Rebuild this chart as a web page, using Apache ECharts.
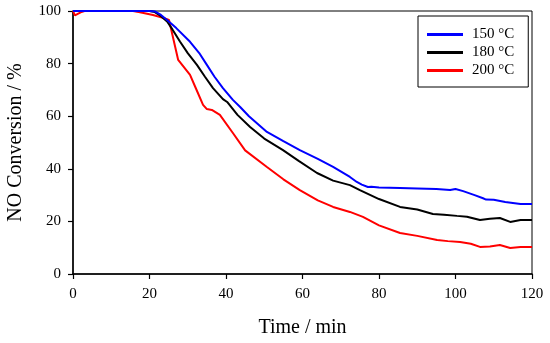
<!DOCTYPE html>
<html>
<head>
<meta charset="utf-8">
<script src="https://cdn.jsdelivr.net/npm/echarts@6/dist/echarts.min.js"></script>
<style>html,body{margin:0;padding:0;background:#fff}#c{width:550px;height:343px}</style>
</head>
<body>
<div id="c"></div>
<script>
var seriesNames = ['150 °C', '180 °C', '200 °C'];
var xTicks = [0, 20, 40, 60, 80, 100, 120];
var yTicks = [0, 20, 40, 60, 80, 100];

var t150 = [0,5,10,15,20,21.5,23,24.6,27,30.6,33,35,37,39.2,41.8,43.7,46,50.7,55,59.3,64,68,72.4,74.2,75.5,76,77.1,78,80,85.5,90,95,98.6,100,102,105,107.2,108,110,113,115,117,120];
var v150 = [100,100,100,100,100,99.8,98.5,96.6,93.5,88.3,84,79.5,75,70.7,66.2,63.5,60,54,50.5,47.1,43.8,40.7,36.9,35,34,34.6,33.1,33.2,32.9,32.7,32.5,32.3,31.9,32.3,31.5,30,28.8,28.3,28.2,27.4,27,26.6,26.6];

var t180 = [0,5,10,15,20,21.4,23,24.6,26,28,30,32.4,34.5,36.6,39.2,40.3,43,46.3,50,54.9,59,63.8,68,72.4,75,80,85.5,90,94.1,97,100.4,103,106.4,109,111.6,114.3,117,120];
var v180 = [100,100,100,100,100,99.6,98,96,93,88.3,84,79.5,75,70.7,66.5,65.4,60.5,55.9,51.5,47.1,43,38.4,35.5,33.8,31.9,28.5,25.5,24.5,22.8,22.5,22.1,21.8,20.5,21,21.3,19.8,20.5,20.5];

var t200 = [0,0.5,1,2,3,5,10,15.7,17.5,20.9,24,25.1,27.5,30.6,32,34,35,35.3,36.3,38.4,41.8,45,50.7,55,59.3,64,68,72.4,75.8,80,85.5,90,95.2,98,101.2,104,106.4,109,111.6,114.3,117,120];
var v200 = [100,98.3,99,99.5,100,100,100,100,99.5,98.5,97.2,96.6,81.4,75.7,71,64.3,62.7,63.1,62.4,60.5,53.6,47,40.7,36,31.9,28,25.5,23.6,21.7,18.5,15.6,14.5,12.9,12.5,12.2,11.5,10.3,10.5,11.0,9.9,10.3,10.3];

function pairs(t, v) { return t.map(function (x, i) { return [x, v[i]]; }); }
var colors = ['#0000ff', '#000000', '#ff0000'];
var datasets = [pairs(t150, v150), pairs(t180, v180), pairs(t200, v200)];
var font = '"Liberation Serif", "Times New Roman", serif';

var chart = echarts.init(document.getElementById('c'), null, {renderer: 'canvas'});
chart.setOption({
  animation: false,
  backgroundColor: '#fff',
  textStyle: {fontFamily: font},
  grid: {left: 73, right: 18, top: 11, bottom: 69, containLabel: false, outerBoundsMode: 'none', show: true, borderColor: '#000', borderWidth: 1, backgroundColor: 'transparent'},
  legend: {
    orient: 'vertical', left: 418, top: 16,
    borderColor: '#000', borderWidth: 1,
    padding: [11, 14, 9, 9],
    itemGap: 3, itemWidth: 36, itemHeight: 3, icon: 'rect',
    textStyle: {fontFamily: font, fontSize: 15, color: '#000', lineHeight: 15, padding: [0, 0, 0, 4]},
    data: seriesNames
  },
  xAxis: {
    type: 'value', min: xTicks[0], max: xTicks[xTicks.length - 1], interval: 20,
    name: 'Time / min', nameLocation: 'middle', nameGap: 44,
    nameTextStyle: {fontFamily: font, fontSize: 20, color: '#000'},
    axisLine: {lineStyle: {color: '#000', width: 1.5}},
    axisTick: {show: true, inside: false, length: 5, lineStyle: {color: '#000', width: 1.2}},
    axisLabel: {fontFamily: font, fontSize: 15, color: '#000', margin: 13},
    splitLine: {show: false}
  },
  yAxis: {
    type: 'value', min: yTicks[0], max: yTicks[yTicks.length - 1], interval: 20,
    name: 'NO Conversion / %', nameLocation: 'middle', nameGap: 47,
    nameTextStyle: {fontFamily: font, fontSize: 20, color: '#000'},
    axisLine: {lineStyle: {color: '#000', width: 1.5}},
    axisTick: {show: true, inside: false, length: 5, lineStyle: {color: '#000', width: 1.2}},
    axisLabel: {fontFamily: font, fontSize: 15, color: '#000', margin: 12},
    splitLine: {show: false}
  },
  series: seriesNames.map(function (n, i) {
    return {
      name: n, type: 'line', data: datasets[i], symbol: 'none', showSymbol: false,
      color: colors[i],
      lineStyle: {color: colors[i], width: 2},
      z: 3 - i
    };
  })
});
</script>
</body>
</html>
